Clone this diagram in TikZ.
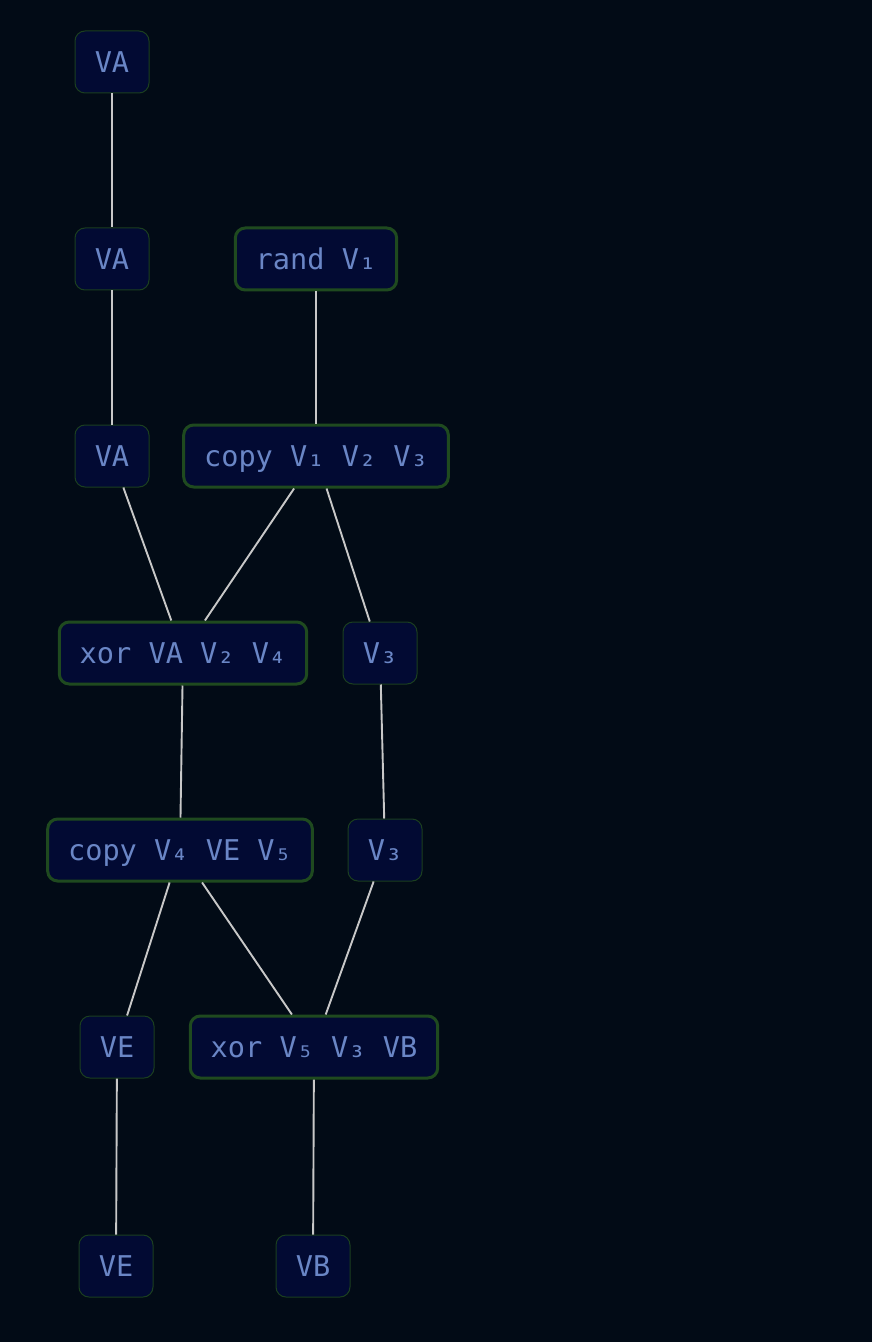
\documentclass[tikz,border=0pt]{standalone}
\usepackage{fontspec}
\setmonofont{DejaVu Sans Mono}
\definecolor{bgcol}{HTML}{020B16}
\definecolor{boxfill}{HTML}{020A33}
\definecolor{boxtext}{HTML}{6A86C6}
\definecolor{opline}{HTML}{1F4A1F}
\definecolor{varline}{HTML}{1B3F1F}
\definecolor{wirecol}{HTML}{C8C8C8}
\tikzstyle{var} = [align=center,draw=varline,line width=0.5pt,fill=boxfill,rectangle,rounded corners=5pt,text=boxtext,minimum width=37pt,minimum height=31pt,inner xsep=0pt,text height=13pt,text depth=2.8pt,font=\ttfamily\fontsize{14.3}{16}\selectfont]
\tikzstyle{op} = [align=center,draw=opline,line width=1.5pt,fill=boxfill,rectangle,rounded corners=5pt,text=boxtext,minimum height=31pt,inner xsep=10.2pt,text height=13pt,text depth=2.8pt,font=\ttfamily\fontsize{14.3}{16}\selectfont]
\tikzstyle{wire} = [draw=wirecol,line width=0.95pt]

\begin{document}
\begin{tikzpicture}[node distance=98.5pt]
				\fill[bgcol] (0,0) rectangle (436pt,-671pt);
				\useasboundingbox (0,0) rectangle (436pt,-671pt);
				\node (va1) [var] at (56pt,-31pt) {VA};
				\node (va2) [var, below of=va1] {VA};
				\node (va3) [var, below of=va2] {VA};
				\node (rnd) [op, right of=va2, xshift=3.5pt] {rand V₁};
				\node (cp1) [op, below of=rnd] {copy V₁ V₂ V₃};
				\node (xr1) [op, below of=va3, xshift=35.5pt] {xor VA V₂ V₄};
				\node (v3a) [var, below of=cp1, xshift=32pt] {V₃};
				\node (cp2) [op, below of=xr1, xshift=-1.5pt] {copy V₄ VE V₅};
				\node (v3b) [var, below of=v3a, xshift=2.5pt] {V₃};
				\node (vea) [var, below of=cp2, xshift=-31.5pt] {VE};
				\node (xr2) [op, below of=v3b, xshift=-35.5pt] {xor V₅ V₃ VB};
				\node (veb) [var, below of=vea, xshift=-0.5pt, yshift=-11pt] {VE};
				\node (vb) [var, below of=xr2, xshift=-0.5pt, yshift=-11pt] {VB};
				\draw [wire] (va1) -- (va2);
				\draw [wire] (va2) -- (va3);
				\draw [wire] (rnd) -- (cp1);
				\draw [wire] (va3) -- (xr1);
				\draw [wire] (cp1) -- (xr1);
				\draw [wire] (cp1) -- (v3a);
				\draw [wire] (xr1) -- (cp2);
				\draw [wire] (v3a) -- (v3b);
				\draw [wire] (cp2) -- (vea);
				\draw [wire] (cp2) -- (xr2);
				\draw [wire] (v3b) -- (xr2);
				\draw [wire] (vea) -- (veb);
				\draw [wire] (xr2) -- (vb);
			\end{tikzpicture}
\end{document}
